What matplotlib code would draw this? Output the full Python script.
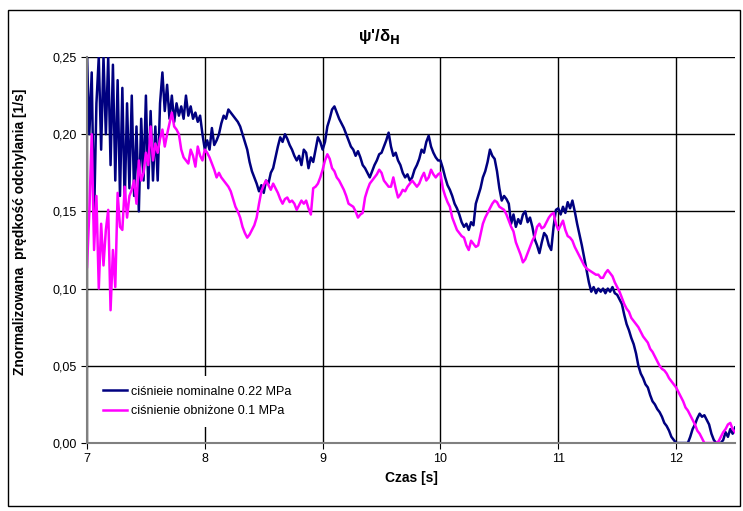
import matplotlib.pyplot as plt
import matplotlib.patches as mpatches
import numpy as np

# navy series, one row = 0.1 s (samples every 0.02 s), from 7.0 s to 12.5 s
nominal = [
    0.25, 0.20, 0.24, 0.145, 0.22,
    0.25, 0.19, 0.25, 0.20, 0.25,
    0.18, 0.245, 0.17, 0.235, 0.16,
    0.23, 0.155, 0.22, 0.165, 0.225,
    0.16, 0.205, 0.15, 0.21, 0.17,
    0.225, 0.165, 0.215, 0.17, 0.205,
    0.17, 0.22, 0.24, 0.215, 0.232,
    0.21, 0.225, 0.208, 0.22, 0.212,
    0.218, 0.21, 0.225, 0.212, 0.218,
    0.21, 0.214, 0.208, 0.212, 0.20,
    0.19, 0.196, 0.19, 0.204, 0.193,
    0.196, 0.20, 0.207, 0.212, 0.21,
    0.216, 0.214, 0.212, 0.21, 0.208,
    0.205, 0.20, 0.195, 0.19, 0.182,
    0.176, 0.172, 0.168, 0.163, 0.167,
    0.162, 0.17, 0.168, 0.175, 0.178,
    0.185, 0.192, 0.198, 0.195, 0.20,
    0.197, 0.193, 0.19, 0.186, 0.183,
    0.186, 0.18, 0.19, 0.188, 0.178,
    0.185, 0.182, 0.19, 0.198, 0.195,
    0.19, 0.195, 0.205, 0.21, 0.216,
    0.218, 0.214, 0.21, 0.207, 0.204,
    0.20, 0.196, 0.192, 0.19, 0.186,
    0.189, 0.185, 0.18, 0.178, 0.175,
    0.172, 0.176, 0.18, 0.183, 0.187,
    0.188, 0.192, 0.196, 0.201, 0.192,
    0.186, 0.188, 0.183, 0.18, 0.175,
    0.172, 0.174, 0.17, 0.172, 0.177,
    0.18, 0.184, 0.19, 0.188, 0.195,
    0.199, 0.192, 0.188, 0.185, 0.183,
    0.183, 0.178, 0.172, 0.167, 0.164,
    0.16, 0.155, 0.152, 0.148, 0.143,
    0.14, 0.142, 0.138, 0.143, 0.141,
    0.155, 0.16, 0.165, 0.172, 0.176,
    0.182, 0.19, 0.186, 0.184, 0.176,
    0.165, 0.157, 0.16, 0.158, 0.155,
    0.142, 0.148, 0.14, 0.145, 0.142,
    0.148, 0.15, 0.143, 0.146, 0.14,
    0.132, 0.128, 0.123, 0.13, 0.136,
    0.134, 0.128, 0.125, 0.14, 0.151,
    0.152, 0.148, 0.153, 0.149, 0.156,
    0.152, 0.157, 0.15, 0.142, 0.135,
    0.128, 0.12, 0.112, 0.104, 0.098,
    0.101, 0.097, 0.10, 0.098, 0.10,
    0.097, 0.10, 0.098, 0.101, 0.097,
    0.096, 0.093, 0.09, 0.083, 0.077,
    0.073, 0.068, 0.064, 0.058, 0.05,
    0.045, 0.042, 0.038, 0.036, 0.031,
    0.027, 0.025, 0.022, 0.02, 0.017,
    0.013, 0.011, 0.008, 0.004, 0.002,
    0.0, 0.0, 0.0, 0.0, 0.0,
    0.0, 0.004, 0.009, 0.012, 0.016,
    0.019, 0.017, 0.018, 0.015, 0.012,
    0.006, 0.002, 0.0, 0.0, 0.0,
    0.002, 0.007, 0.004, 0.009, 0.006,
    0.01,
]

# magenta series, same sampling
reduced = [
    0.114, 0.15, 0.20, 0.125, 0.16,
    0.10, 0.142, 0.115, 0.138, 0.151,
    0.086, 0.125, 0.101, 0.162, 0.14,
    0.138, 0.166, 0.146, 0.16, 0.164,
    0.17, 0.155, 0.183, 0.17, 0.175,
    0.188, 0.18, 0.205, 0.183, 0.194,
    0.188, 0.197, 0.203, 0.192, 0.20,
    0.207, 0.214, 0.205, 0.203, 0.20,
    0.19, 0.185, 0.183, 0.181, 0.19,
    0.186, 0.179, 0.192, 0.186, 0.183,
    0.19, 0.188, 0.185, 0.181, 0.177,
    0.172, 0.175, 0.172, 0.17, 0.168,
    0.166, 0.163, 0.158, 0.153, 0.15,
    0.146, 0.14, 0.136, 0.133, 0.135,
    0.138, 0.141, 0.146, 0.155, 0.163,
    0.167, 0.17, 0.167, 0.164, 0.168,
    0.165, 0.162, 0.158, 0.155, 0.158,
    0.159, 0.156, 0.157, 0.155, 0.151,
    0.154, 0.157, 0.155, 0.157, 0.152,
    0.148, 0.165, 0.166, 0.168, 0.172,
    0.177, 0.183, 0.187, 0.184, 0.178,
    0.176, 0.172, 0.17, 0.167, 0.164,
    0.16, 0.155, 0.154, 0.153, 0.15,
    0.146, 0.148, 0.149, 0.159, 0.164,
    0.168, 0.17, 0.172, 0.174, 0.177,
    0.175, 0.17, 0.168, 0.166, 0.166,
    0.172, 0.165, 0.159, 0.161, 0.164,
    0.163, 0.166, 0.168, 0.17, 0.168,
    0.166, 0.168, 0.172, 0.175, 0.17,
    0.172, 0.177, 0.174, 0.172, 0.174,
    0.175, 0.165, 0.16, 0.156, 0.153,
    0.146, 0.142, 0.138, 0.136, 0.134,
    0.133, 0.128, 0.125, 0.131, 0.129,
    0.127, 0.128, 0.135, 0.142, 0.146,
    0.149, 0.152, 0.155, 0.157, 0.156,
    0.153, 0.152, 0.151, 0.148, 0.144,
    0.14, 0.137, 0.13, 0.126, 0.122,
    0.117, 0.119, 0.123, 0.127, 0.131,
    0.134, 0.14, 0.142, 0.139, 0.14,
    0.143, 0.146, 0.148, 0.149, 0.142,
    0.138, 0.141, 0.144, 0.138, 0.134,
    0.133, 0.131, 0.127, 0.124, 0.121,
    0.118, 0.115, 0.113, 0.112, 0.111,
    0.11, 0.109, 0.109, 0.107, 0.107,
    0.11, 0.112, 0.11, 0.108, 0.104,
    0.101, 0.098, 0.094, 0.09, 0.087,
    0.085, 0.081, 0.079, 0.077, 0.075,
    0.072, 0.069, 0.067, 0.065, 0.061,
    0.059, 0.056, 0.053, 0.05, 0.048,
    0.047, 0.045, 0.042, 0.04, 0.038,
    0.036, 0.033, 0.03, 0.027, 0.023,
    0.021, 0.018, 0.015, 0.012, 0.008,
    0.006, 0.003, 0.0, 0.0, 0.0,
    0.0, 0.0, 0.0, 0.001, 0.004,
    0.007, 0.009, 0.012, 0.013, 0.009,
    0.007,
]

t_nom = np.linspace(7.0, 12.5, len(nominal))
t_red = np.linspace(7.0, 12.5, len(reduced))

x_ticks = [7, 8, 9, 10, 11, 12]
y_ticks = [0.0, 0.05, 0.10, 0.15, 0.20, 0.25]
y_labels = ["0,00", "0,05", "0,10", "0,15", "0,20", "0,25"]

label_nom = "ciśnieie nominalne 0.22 MPa"
label_red = "ciśnienie obniżone 0.1 MPa"

plt.rcParams['font.family'] = ['Liberation Sans', 'DejaVu Sans']

fig = plt.figure(figsize=(7.43, 5.11), dpi=100)
ax = fig.add_axes([87 / 743, 1 - 443 / 511, (735 - 87) / 743, (443 - 57) / 511])

ax.plot(t_nom, nominal, color='#000080', lw=1.8, label=label_nom)
ax.plot(t_red, reduced, color='#FF00FF', lw=1.8, label=label_red)

ax.set_xlim(7, 12.5)
ax.set_ylim(0, 0.25)
ax.set_xticks(x_ticks)
ax.set_yticks(y_ticks)
ax.set_yticklabels(y_labels)
ax.tick_params(labelsize=9, direction='out', length=4, color='black')
ax.grid(True, color='black', lw=1.0)
ax.set_axisbelow(True)

for side in ['top', 'right']:
    ax.spines[side].set_visible(False)
for side in ['left', 'bottom']:
    ax.spines[side].set_color('#808080')
    ax.spines[side].set_linewidth(1.5)

ax.set_xlabel("Czas [s]", fontsize=10, fontweight='bold', labelpad=4)
fig.text(20 / 743, 1 - 232 / 511, "Znormalizowana  prędkość odchylania [1/s]",
         rotation=90, ha='center', va='center', fontsize=10, fontweight='bold')
fig.text(379 / 743, 1 - 36 / 511, "ψ'/δ$_\\mathbf{H}$", ha='center', va='center',
         fontsize=12, fontweight='bold')

leg = ax.legend(loc='lower left', bbox_to_anchor=(0.0, 0.025), fontsize=9,
                frameon=True, fancybox=False, handlelength=1.9, handletextpad=0.3,
                borderpad=0.8, labelspacing=0.6)
leg.get_frame().set_facecolor('white')
leg.get_frame().set_edgecolor('none')
leg.get_frame().set_alpha(1.0)

fig.patches.append(mpatches.Rectangle((8 / 743, 1 - 506 / 511), (740 - 8) / 743,
                                      (506 - 10) / 511, transform=fig.transFigure,
                                      fill=False, edgecolor='black', lw=1.0))

plt.savefig("out.png", dpi=100)
